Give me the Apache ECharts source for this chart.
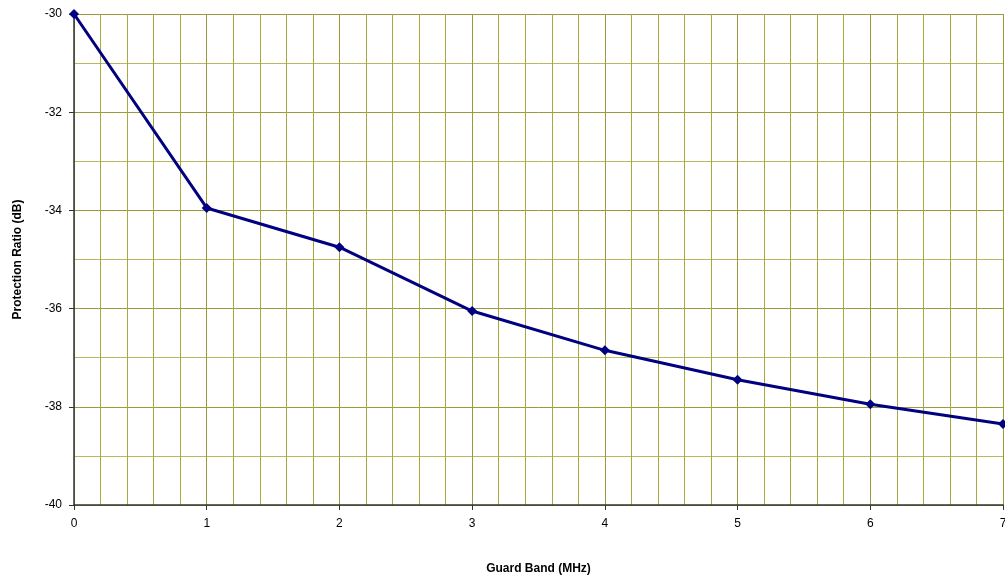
<!DOCTYPE html>
<html><head><meta charset="utf-8">
<script src="https://cdn.jsdelivr.net/npm/echarts@6/dist/echarts.min.js"></script>
<style>html,body{margin:0;padding:0;background:#fff}#c{width:1005px;height:578px}</style>
</head><body><div id="c"></div>
<script>
const guardBand = [0, 1, 2, 3, 4, 5, 6, 7];
const protectionRatio = [-30, -33.95, -34.75, -36.05, -36.85, -37.45, -37.95, -38.35];
const xTitle = 'Guard Band (MHz)';
const yTitle = 'Protection Ratio (dB)';

const chart = echarts.init(document.getElementById('c'));
const font = 'Liberation Sans, Arial, sans-serif';
chart.setOption({
  animation: false,
  grid: {left: 74, right: 2, top: 14, bottom: 73, containLabel: false, outerBoundsMode: 'none'},
  xAxis: {
    type: 'value', min: 0, max: 7, interval: 1,
    name: xTitle, nameLocation: 'middle', nameGap: 58,
    nameTextStyle: {fontFamily: font, fontSize: 12, fontWeight: 'bold', color: '#000'},
    axisLine: {show: true, onZero: false, lineStyle: {color: '#333', width: 1.5}},
    axisTick: {show: true, length: 5, lineStyle: {color: '#333'}},
    axisLabel: {fontFamily: font, fontSize: 12, color: '#000', margin: 13},
    splitLine: {show: true, lineStyle: {color: '#9a9a3a', width: 1}},
    minorTick: {show: false, splitNumber: 5},
    minorSplitLine: {show: true, lineStyle: {color: '#a8a840', width: 1}}
  },
  yAxis: {
    type: 'value', min: -40, max: -30, interval: 2,
    name: yTitle, nameLocation: 'middle', nameGap: 50, nameRotate: 90,
    nameTextStyle: {fontFamily: font, fontSize: 12, fontWeight: 'bold', color: '#000'},
    axisLine: {show: true, onZero: false, lineStyle: {color: '#333', width: 1.5}},
    axisTick: {show: true, length: 5, lineStyle: {color: '#333'}},
    axisLabel: {fontFamily: font, fontSize: 12, color: '#000', margin: 12},
    splitLine: {show: true, lineStyle: {color: '#9a9a3a', width: 1}},
    minorTick: {show: false, splitNumber: 2},
    minorSplitLine: {show: true, lineStyle: {color: '#b8b860', width: 1}}
  },
  series: [{
    type: 'line',
    data: guardBand.map((g, i) => [g, protectionRatio[i]]),
    symbol: 'diamond', symbolSize: 10,
    lineStyle: {color: '#000080', width: 3},
    itemStyle: {color: '#000080'},
    clip: false
  }]
});
</script></body></html>
